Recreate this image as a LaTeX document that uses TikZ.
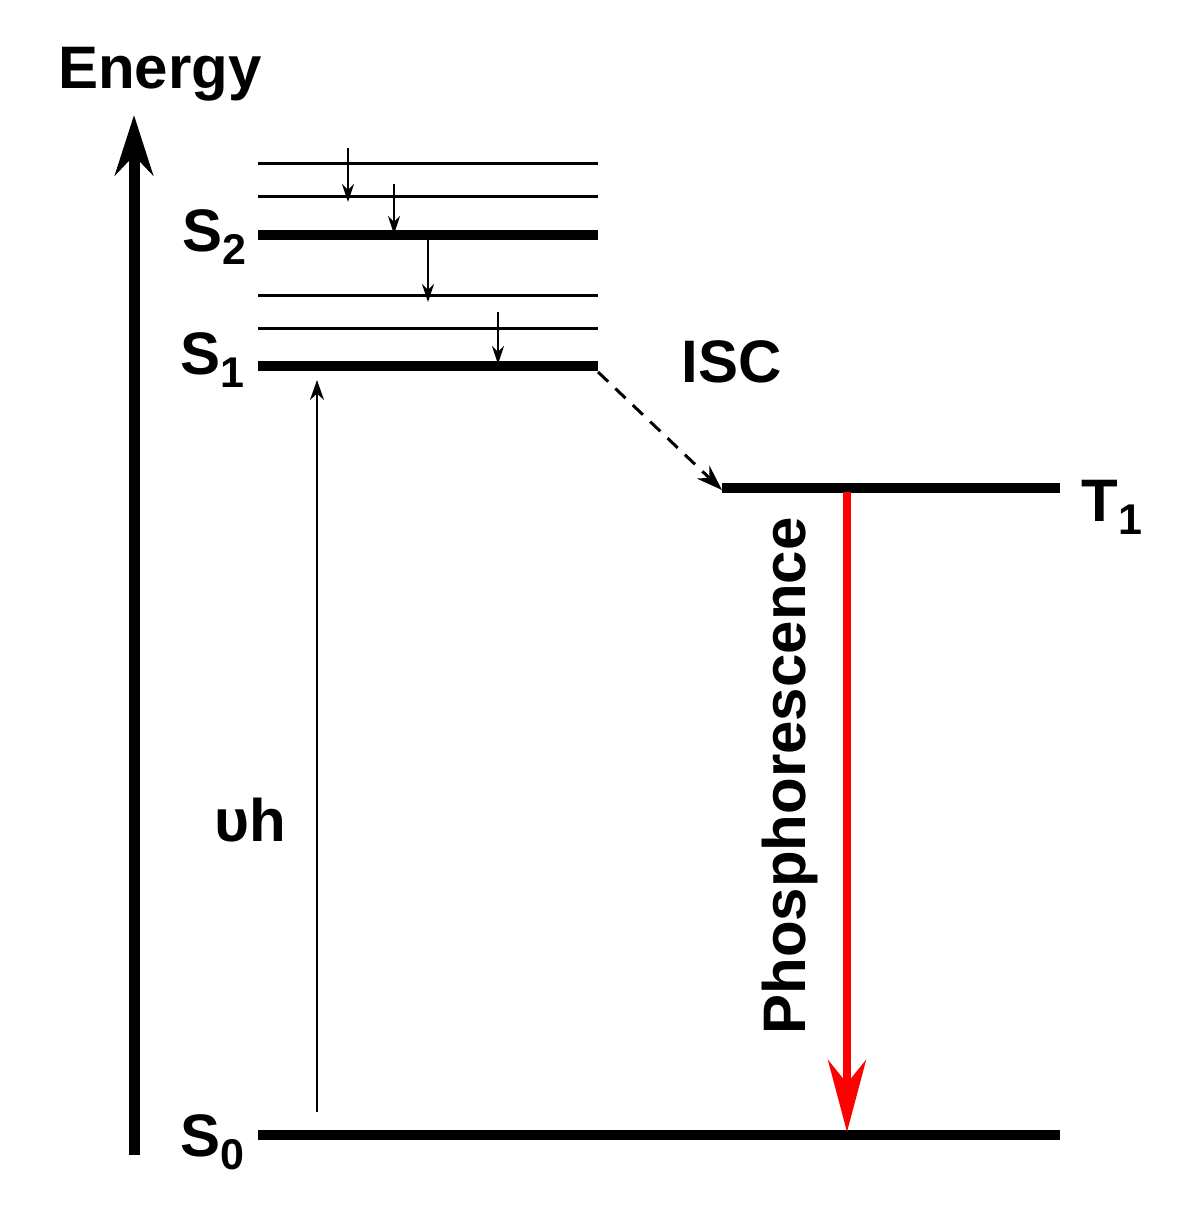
\documentclass[tikz,border=0pt]{standalone}
\usepackage{fontspec}
\setmainfont{Liberation Sans}
\usetikzlibrary{arrows.meta}
\begin{document}
\begin{tikzpicture}[x=1pt,y=-1pt,
  lbl/.style={font=\fontsize{60}{64}\selectfont\bfseries,inner sep=0pt},
  thin/.style={line width=3pt},
  thick/.style={line width=10pt},
  small/.style={line width=2.5pt,-{Stealth[length=18pt,width=12pt]}}]
\useasboundingbox (0,0) rectangle (1189,1208);
\coordinate (ab) at (134,1155); \coordinate (at) at (134,115);
\draw[line width=11pt,-{Stealth[length=60pt,width=38pt]}] (ab) -- (at);
\node[lbl] (en) at (160,74) {Energy};
\foreach \y in {163,196,295,328} \draw[thin] (258,\y) -- (598,\y);
\draw[thick] (258,235) -- (598,235);
\draw[thick] (258,366) -- (598,366);
\draw[thick] (722,488) -- (1060,488);
\draw[thick] (258,1135) -- (1060,1135);
\node[lbl] (s2) at (214,237) {S\raisebox{-13pt}{\fontsize{43}{43}\selectfont 2}};
\node[lbl] (s1) at (212,360) {S\raisebox{-13pt}{\fontsize{43}{43}\selectfont 1}};
\node[lbl] (s0) at (212,1142) {S\raisebox{-13pt}{\fontsize{43}{43}\selectfont 0}};
\node[lbl] (t1) at (1112,507) {T\raisebox{-13pt}{\fontsize{43}{43}\selectfont 1}};
\coordinate (a1) at (348,148); \coordinate (b1) at (348,202);
\coordinate (a2) at (394,184); \coordinate (b2) at (394,234);
\coordinate (a3) at (428,238); \coordinate (b3) at (428,302);
\coordinate (a4) at (498,312); \coordinate (b4) at (498,364);
\draw[small] (a1) -- (b1); \draw[small] (a2) -- (b2);
\draw[small] (a3) -- (b3); \draw[small] (a4) -- (b4);
\coordinate (eb) at (317,1112); \coordinate (et) at (317,380);
\draw[line width=2.5pt,-{Stealth[length=20pt,width=14pt]}] (eb) -- (et);
\node[lbl] (hv) at (250,820) {υh};
\coordinate (i1) at (598,372); \coordinate (i2) at (722,490);
\draw[line width=3pt,dash pattern=on 14pt off 10pt,-{Stealth[length=26pt,width=18pt]}] (i1) -- (i2);
\node[lbl] (isc) at (732,362) {ISC};
\coordinate (p1) at (847,492); \coordinate (p2) at (847,1132);
\draw[red,line width=8pt,-{Stealth[length=72pt,width=38pt]}] (p1) -- (p2);
\node[lbl,rotate=90] (ph) at (790,776) {Phosphorescence};
\end{tikzpicture}
\end{document}
